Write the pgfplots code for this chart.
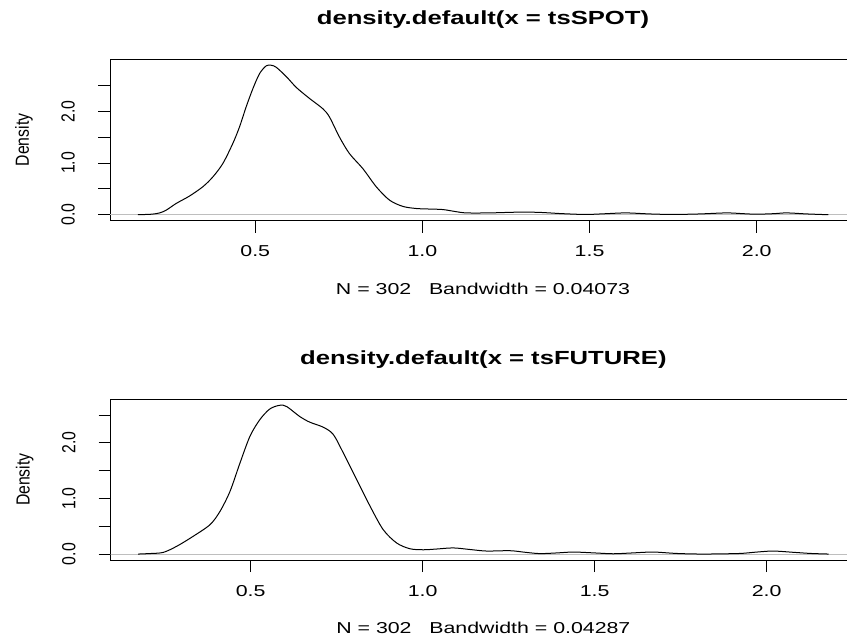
\documentclass[border=0pt]{standalone}
\usepackage{fontspec}
\setmainfont{Liberation Sans}[FakeStretch=1.35]
\newfontfamily\rotfont{Liberation Sans}
\usepackage{graphicx}
\usepackage{pgfplots}
\pgfplotsset{compat=1.18}
\definecolor{zeroline}{RGB}{190,190,190}
\newcommand{\lab}{\fontsize{15.8}{19}\selectfont}
\newcommand{\ttl}{\fontsize{19}{23}\selectfont\bfseries}
\newcommand{\rl}[1]{\rotatebox{90}{\scalebox{1}[1.2]{\rotfont\fontsize{15.8}{19}\selectfont #1}}}
\pgfplotsset{
  rplot/.style={
    anchor=south west, scale only axis,
    axis line style={line width=0.9pt},
    tick pos=left, tick align=outside,
    major tick length=12pt,
    tick style={black, line width=0.9pt},
    xtick={0.5,1,1.5,2}, xticklabels={0.5,1.0,1.5,2.0},
    ytick={0,0.5,1,1.5,2,2.5},
    yticklabels={\rl{0.0},,\rl{1.0},,\rl{2.0},},
    every x tick label/.append style={font=\lab, anchor=base, inner sep=0pt, yshift=-24pt},
    every y tick label/.append style={anchor=east, inner sep=0pt, xshift=-23pt},
    every axis title/.style={at={(axis description cs:0.5,1)}, anchor=base, font=\ttl, yshift=35pt},
    every axis x label/.style={at={(axis description cs:0.5,0)}, anchor=base, font=\lab, yshift=-74pt},
    every axis y label/.style={at={(axis description cs:0,0.5)}, anchor=east, inner sep=0pt, xshift=-77pt},
    ylabel={\rl{Density}},
    clip=true,
  }
}
\begin{document}
\begin{tikzpicture}
\path[use as bounding box] (0pt,0pt) rectangle (847pt,643pt);
\clip (0pt,0pt) rectangle (847pt,643pt);
\begin{axis}[rplot, at={(110pt,422.3pt)}, width=746pt, height=161.4pt,
  xmin=0.0655, xmax=2.297, ymin=-0.1156, ymax=3.0056,
  title={density.default(x = tsSPOT)},
  xlabel={N = 302\ \ \ Bandwidth = 0.04073}]
\addplot[zeroline, line width=0.8pt, forget plot] coordinates {(-1,0) (3,0)};
\addplot[black, line width=1pt, smooth, tension=0.5] coordinates {
(0.149,0) (0.19,0.01) (0.214,0.035) (0.234,0.09) (0.264,0.22) (0.303,0.36)
(0.343,0.54) (0.373,0.73) (0.403,0.99) (0.433,1.38) (0.453,1.70) (0.473,2.09)
(0.493,2.44) (0.513,2.73) (0.533,2.88) (0.548,2.89) (0.563,2.85) (0.593,2.67)
(0.623,2.46) (0.662,2.25) (0.702,2.05) (0.722,1.89) (0.752,1.50) (0.782,1.18)
(0.822,0.89) (0.862,0.54) (0.902,0.28) (0.942,0.16) (0.982,0.12) (1.02,0.11)
(1.061,0.10) (1.10,0.06) (1.131,0.035) (1.20,0.035) (1.29,0.05) (1.35,0.045)
(1.42,0.02) (1.489,0.005) (1.55,0.02) (1.609,0.035) (1.68,0.015) (1.749,0.005)
(1.83,0.015) (1.909,0.035) (1.96,0.02) (1.999,0.01) (2.05,0.02) (2.09,0.035)
(2.15,0.015) (2.214,0.0)};
\end{axis}
\begin{axis}[rplot, at={(110.7pt,83pt)}, width=745.3pt, height=160.7pt,
  xmin=0.093, xmax=2.2596, ymin=-0.107, ymax=2.782,
  title={density.default(x = tsFUTURE)},
  xlabel={N = 302\ \ \ Bandwidth = 0.04287}]
\addplot[zeroline, line width=0.8pt, forget plot] coordinates {(-1,0) (3,0)};
\addplot[black, line width=1pt, smooth, tension=0.5] coordinates {
(0.173,0) (0.21,0.01) (0.246,0.03) (0.285,0.14) (0.333,0.32) (0.382,0.53)
(0.411,0.77) (0.440,1.13) (0.469,1.64) (0.498,2.12) (0.527,2.42) (0.556,2.61)
(0.585,2.675) (0.605,2.65) (0.643,2.47) (0.672,2.37) (0.711,2.28) (0.740,2.15)
(0.769,1.82) (0.808,1.34) (0.847,0.86) (0.885,0.44) (0.924,0.20) (0.963,0.095)
(1.002,0.077) (1.04,0.09) (1.089,0.11) (1.14,0.08) (1.186,0.054) (1.254,0.06)
(1.30,0.03) (1.341,0.008) (1.39,0.02) (1.438,0.036) (1.50,0.02) (1.554,0.005)
(1.61,0.02) (1.670,0.036) (1.74,0.01) (1.816,0.0) (1.92,0.01) (1.97,0.035)
(2.019,0.054) (2.08,0.03) (2.13,0.01) (2.180,0.0)};
\end{axis}
\end{tikzpicture}
\end{document}
